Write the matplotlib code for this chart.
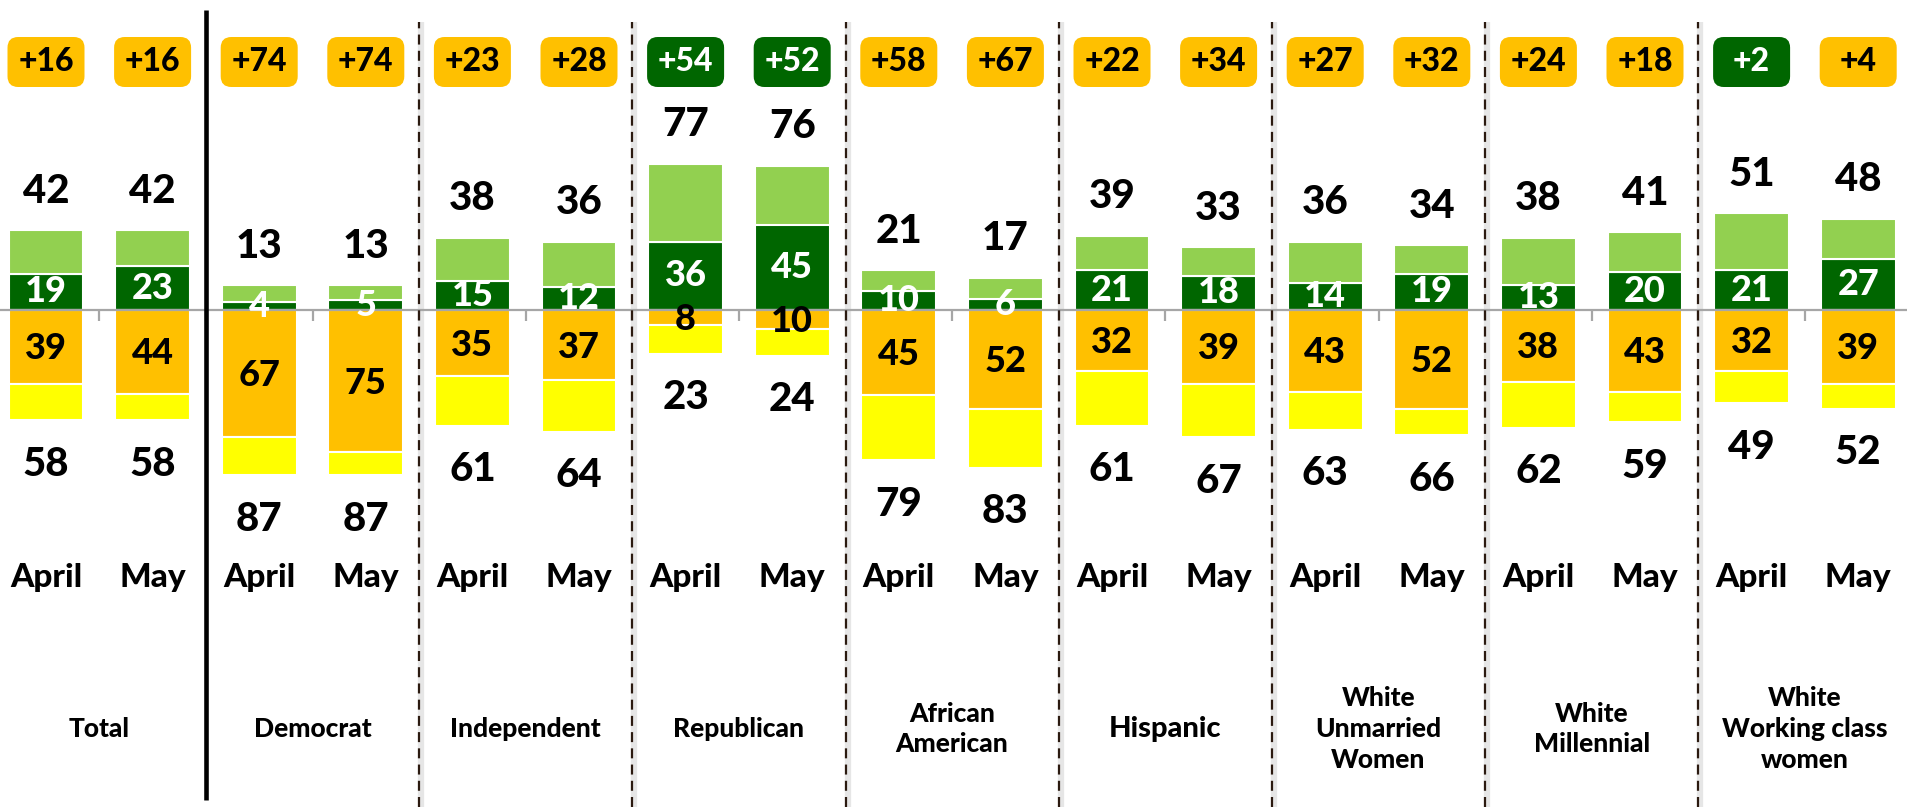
import numpy as np
import matplotlib.pyplot as plt
from matplotlib.patches import FancyBboxPatch

# groups and months
groups = ["Total", "Democrat", "Independent", "Republican", "African\nAmerican",
          "Hispanic", "White\nUnmarried\nWomen", "White\nMillennial",
          "White\nWorking class\nwomen"]
months = ["April", "May"]

# values, April/May per group
pos_total = [42, 42, 13, 13, 38, 36, 77, 76, 21, 17, 39, 33, 36, 34, 38, 41, 51, 48]
pos_strong = [19, 23, 4, 5, 15, 12, 36, 45, 10, 6, 21, 18, 14, 19, 13, 20, 21, 27]
neg_total = [58, 58, 87, 87, 61, 64, 23, 24, 79, 83, 61, 67, 63, 66, 62, 59, 49, 52]
neg_strong = [39, 44, 67, 75, 35, 37, 8, 10, 45, 52, 32, 39, 43, 52, 38, 43, 32, 39]
net_labels = ["+16", "+16", "+74", "+74", "+23", "+28", "+54", "+52", "+58",
              "+67", "+22", "+34", "+27", "+32", "+24", "+18", "+2", "+4"]

dkgreen = "#006600"
ltgreen = "#92D050"
orange = "#FFC000"
yellow = "#FFFF00"

plt.rcParams['font.family'] = ['Lato', 'DejaVu Sans']
heavy = 'black'

W, H = 1907, 807
fig = plt.figure(figsize=(W / 100, H / 100), dpi=100)
ax = fig.add_axes([0, 0, 1, 1])

# pixel geometry: slot pitch and vertical scale
px_x = 106.6
px_y = 1.9
zero_px = 310
x0 = -46 / px_x
ax.set_xlim(x0, x0 + W / px_x)
ax.set_ylim((zero_px - H) / px_y, zero_px / px_y)
ax.axis("off")

pt = np.array(pos_total)
ps = np.array(pos_strong)
nt = np.array(neg_total)
ns = np.array(neg_strong)
x = np.arange(len(pt))
w = 0.70

ax.bar(x, ps, w, color=dkgreen, edgecolor="white", lw=1.5, zorder=2)
ax.bar(x, pt - ps, w, bottom=ps, color=ltgreen, edgecolor="white", lw=1.5, zorder=2)
ax.bar(x, -ns, w, color=orange, edgecolor="white", lw=1.5, zorder=2)
ax.bar(x, -(nt - ns), w, bottom=-ns, color=yellow, edgecolor="white", lw=1.5, zorder=2)

# zero line and small ticks
ax.axhline(0, color="#a6a6a6", lw=1.6, zorder=3)
ax.vlines(np.arange(-0.5, len(x) + 0.5, 1), -11 / px_y, 0, color="#a6a6a6", lw=1.6, zorder=3)

# separators
bot = ax.get_ylim()[0]
ax.vlines(1.5, (zero_px - 800) / px_y, (zero_px - 10) / px_y, color="black", lw=3.3, zorder=4)
for b in np.arange(3.5, len(x), 2):
    ax.vlines(b + 0.02, bot, (zero_px - 22) / px_y, color="#e6e6e6", lw=4.5, zorder=1)
    ax.vlines(b, bot, (zero_px - 22) / px_y, color="#2b1a10", lw=1.6,
              linestyles=(0, (4.5, 2.8)), zorder=4)

# value labels
for i in x:
    ax.text(i, pt[i] + 39 / px_y, str(pt[i]), ha="center", va="center",
            fontsize=29, fontweight=heavy, color="black", zorder=5)
    ax.text(i, -nt[i] - 44 / px_y, str(nt[i]), ha="center", va="center",
            fontsize=29, fontweight=heavy, color="black", zorder=5)
    ax.text(i, ps[i] / 2, str(ps[i]), ha="center", va="center",
            fontsize=26, fontweight=heavy, color="white", zorder=5)
    ax.text(i, -ns[i] / 2 - 1, str(ns[i]), ha="center", va="center",
            fontsize=26, fontweight=heavy, color="black", zorder=5)

# net badges
bw = 77 / px_x
bh = 50 / px_y
by = (zero_px - 62) / px_y
for i in x:
    green = pt[i] > nt[i]
    box = FancyBboxPatch((i - bw / 2, by - bh / 2), bw, bh,
                         boxstyle="round,pad=0,rounding_size=0.1",
                         mutation_aspect=px_x / px_y,
                         fc=dkgreen if green else orange, ec="none", zorder=5)
    ax.add_patch(box)
    ax.text(i, by, net_labels[i], ha="center", va="center", fontsize=23,
            fontweight=heavy, color="white" if green else "black", zorder=6)

# month labels
for i in x:
    ax.text(i, (zero_px - 578) / px_y, months[i % 2], ha="center", va="center",
            fontsize=24, fontweight=heavy, zorder=5)

# group labels
for g, name in enumerate(groups):
    fs = 21 if name == "Hispanic" else 19
    ax.text(2 * g + 0.5, (zero_px - 729) / px_y, name, ha="center", va="center",
            fontsize=fs, fontweight=heavy, linespacing=1.35, zorder=5)

plt.savefig("out.png", dpi=100)
